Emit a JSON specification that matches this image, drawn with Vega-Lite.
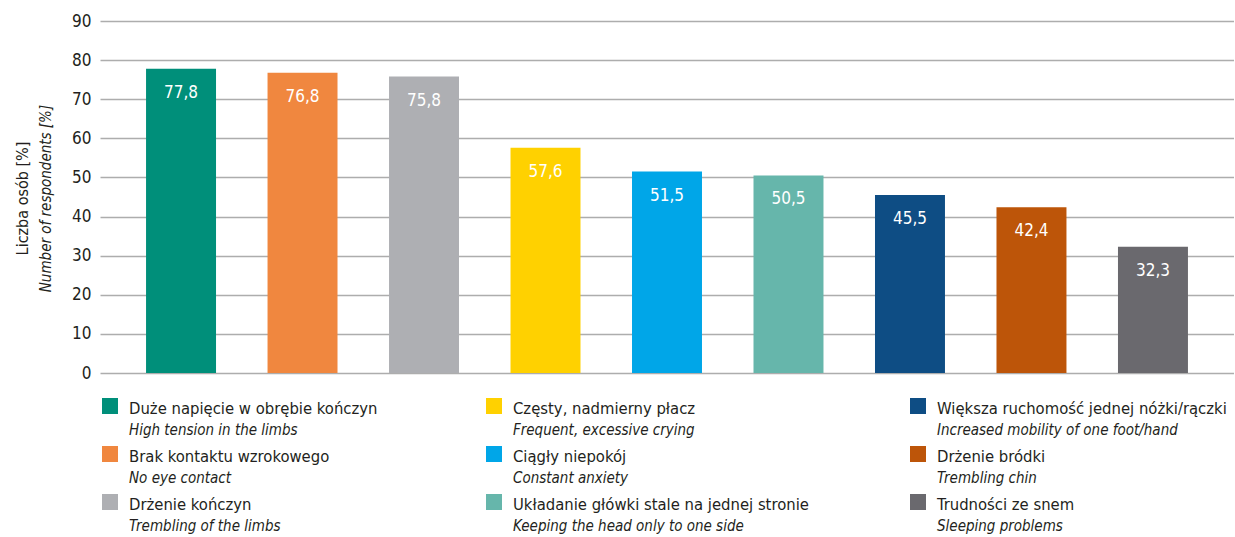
{
  "$schema": "https://vega.github.io/schema/vega-lite/v6.json",
  "padding": {"left": 14, "top": 12, "right": 0, "bottom": 0},
  "background": "white",
  "config": {
    "font": "DejaVu Sans Condensed, sans-serif",
    "view": {"stroke": null},
    "locale": {"number": {"decimal": ",", "thousands": " ", "grouping": [3], "currency": ["", " zł"]}}
  },
  "datasets": {
    "symptoms": [
      {"pl": "Duże napięcie w obrębie kończyn", "en": "High tension in the limbs", "value": 77.8, "col": 0, "row": 0},
      {"pl": "Brak kontaktu wzrokowego", "en": "No eye contact", "value": 76.8, "col": 0, "row": 1},
      {"pl": "Drżenie kończyn", "en": "Trembling of the limbs", "value": 75.8, "col": 0, "row": 2},
      {"pl": "Częsty, nadmierny płacz", "en": "Frequent, excessive crying", "value": 57.6, "col": 1, "row": 0},
      {"pl": "Ciągły niepokój", "en": "Constant anxiety", "value": 51.5, "col": 1, "row": 1},
      {"pl": "Układanie główki stale na jednej stronie", "en": "Keeping the head only to one side", "value": 50.5, "col": 1, "row": 2},
      {"pl": "Większa ruchomość jednej nóżki/rączki", "en": "Increased mobility of one foot/hand", "value": 45.5, "col": 2, "row": 0},
      {"pl": "Drżenie bródki", "en": "Trembling chin", "value": 42.4, "col": 2, "row": 1},
      {"pl": "Trudności ze snem", "en": "Sleeping problems", "value": 32.3, "col": 2, "row": 2}
    ]
  },
  "spacing": 13,
  "vconcat": [
    {
      "width": 1134,
      "height": 352,
      "data": {"name": "symptoms"},
      "encoding": {
        "x": {"field": "pl", "type": "nominal", "sort": null, "axis": null, "scale": {"paddingInner": 0.424, "paddingOuter": 0.379}}
      },
      "layer": [
        {
          "mark": {"type": "bar"},
          "encoding": {
            "y": {
              "field": "value", "type": "quantitative", "scale": {"domain": [0, 90]},
              "axis": {
                "orient": "left", "values": [0, 10, 20, 30, 40, 50, 60, 70, 80, 90],
                "grid": true, "gridColor": "#ADADAD", "gridWidth": 1.5,
                "domain": false, "ticks": false, "labelPadding": 9,
                "labelFontSize": 17, "labelColor": "#231F20",
                "title": "Liczba osób [%]", "titleFontSize": 16, "titleFontWeight": "normal", "titleColor": "#231F20",
                "titleX": -73, "titleY": 177, "titleBaseline": "alphabetic", "titleAlign": "center", "titleAngle": -90
              }
            },
            "color": {
              "field": "pl", "type": "nominal", "legend": null,
              "scale": {
                "domain": ["Duże napięcie w obrębie kończyn", "Brak kontaktu wzrokowego", "Drżenie kończyn", "Częsty, nadmierny płacz", "Ciągły niepokój", "Układanie główki stale na jednej stronie", "Większa ruchomość jednej nóżki/rączki", "Drżenie bródki", "Trudności ze snem"],
                "range": ["#008F7A", "#F0873F", "#AEAFB3", "#FFD100", "#00A6E8", "#66B6AB", "#0E4D84", "#BD5509", "#6A696E"]
              }
            }
          }
        },
        {
          "mark": {"type": "text", "dy": 29, "baseline": "alphabetic", "color": "white", "fontSize": 17},
          "encoding": {
            "y": {
              "field": "value", "type": "quantitative", "scale": {"domain": [0, 90]},
              "axis": {
                "orient": "left", "labels": false, "ticks": false, "domain": false, "grid": false,
                "title": "Number of respondents [%]", "titleFontSize": 15, "titleFontWeight": "normal", "titleFontStyle": "italic", "titleColor": "#231F20",
                "titleX": -50, "titleY": 177, "titleBaseline": "alphabetic", "titleAlign": "center", "titleAngle": -90
              }
            },
            "text": {"field": "value", "type": "quantitative", "format": ".1f"}
          }
        }
      ],
      "resolve": {"axis": {"y": "independent"}}
    },
    {
      "width": 1134,
      "height": 142,
      "data": {"name": "symptoms"},
      "encoding": {
        "x": {"field": "col", "type": "quantitative", "axis": null, "scale": {"domain": [0, 1, 2], "range": [10, 394, 818], "nice": false, "zero": false}},
        "y": {"field": "row", "type": "quantitative", "axis": null, "scale": {"domain": [0, 2], "range": [12, 108], "nice": false, "zero": false}}
      },
      "layer": [
        {
          "mark": {"type": "square", "size": 256, "opacity": 1, "filled": true},
          "encoding": {
            "color": {
              "field": "pl", "type": "nominal", "legend": null,
              "scale": {
                "domain": ["Duże napięcie w obrębie kończyn", "Brak kontaktu wzrokowego", "Drżenie kończyn", "Częsty, nadmierny płacz", "Ciągły niepokój", "Układanie główki stale na jednej stronie", "Większa ruchomość jednej nóżki/rączki", "Drżenie bródki", "Trudności ze snem"],
                "range": ["#008F7A", "#F0873F", "#AEAFB3", "#FFD100", "#00A6E8", "#66B6AB", "#0E4D84", "#BD5509", "#6A696E"]
              }
            }
          }
        },
        {
          "mark": {"type": "text", "align": "left", "baseline": "alphabetic", "dx": 19, "dy": 8, "fontSize": 16.5, "color": "#231F20"},
          "encoding": {"text": {"field": "pl", "type": "nominal"}}
        },
        {
          "mark": {"type": "text", "align": "left", "baseline": "alphabetic", "dx": 19, "dy": 29, "fontSize": 15, "fontStyle": "italic", "color": "#231F20"},
          "encoding": {"text": {"field": "en", "type": "nominal"}}
        }
      ]
    }
  ]
}
